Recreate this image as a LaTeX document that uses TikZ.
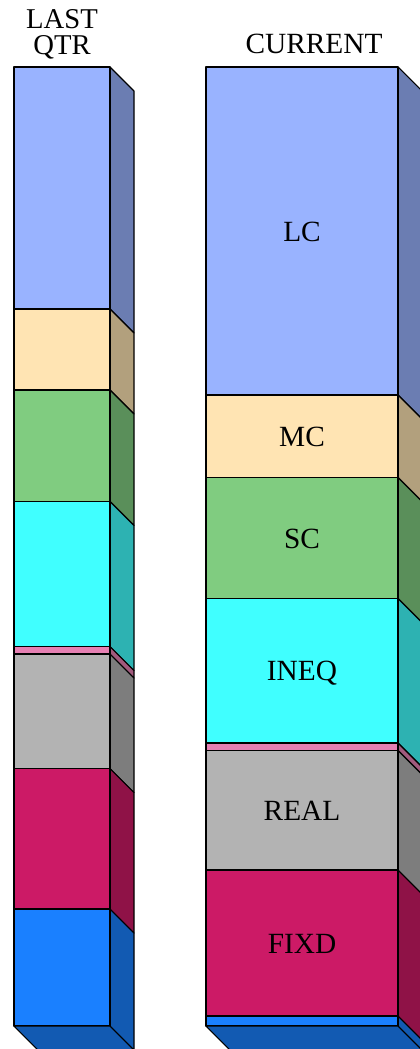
\documentclass[tikz,border=0pt]{standalone}
\usepackage{fontspec}
\setmainfont{Liberation Serif}
\usepackage{xcolor}
\usepackage{tikz}
\usetikzlibrary{positioning}

\definecolor{lcblue}{RGB}{153,179,255}
\definecolor{mcsand}{RGB}{255,228,179}
\definecolor{scgreen}{RGB}{128,204,128}
\definecolor{ineqcyan}{RGB}{64,255,255}
\definecolor{otherpink}{RGB}{230,128,179}
\definecolor{realgray}{RGB}{179,179,179}
\definecolor{fixdred}{RGB}{204,26,102}
\definecolor{cashblue}{RGB}{26,128,255}

\begin{document}
\begin{tikzpicture}[
    x=0.75pt, y=-0.75pt,
    face/.style={draw=black, line width=0.8pt, line join=round},
    lbl/.style={font=\fontsize{22}{19}\selectfont, inner sep=0pt, anchor=base},
    head/.style={font=\fontsize{21.5}{20}\selectfont, inner sep=0pt, align=center}
]
\useasboundingbox (0,0) rectangle (420,1049);

% last quarter bar
\foreach \t/\b/\c in {67/309/lcblue, 309/390/mcsand, 390/501.5/scgreen, 501.5/646.5/ineqcyan, 646.5/654/otherpink, 654/768.5/realgray, 768.5/909/fixdred, 909/1026/cashblue} {
    \filldraw[face, fill=\c!70!black] (110,\t) -- (134,\t+24) -- (134,\b+24) -- (110,\b) -- cycle;
    \filldraw[face, fill=\c] (14,\t) rectangle (110,\b);
}
\filldraw[face, fill=cashblue!70!black] (14,1026) -- (110,1026) -- (134,1050) -- (38,1050) -- cycle;

% current bar
\foreach \t/\b/\c in {67/395/lcblue, 395/477.5/mcsand, 477.5/598.5/scgreen, 598.5/743/ineqcyan, 743/750.5/otherpink, 750.5/870/realgray, 870/1016/fixdred, 1016/1026/cashblue} {
    \filldraw[face, fill=\c!70!black] (398,\t) -- (422,\t+24) -- (422,\b+24) -- (398,\b) -- cycle;
    \filldraw[face, fill=\c] (206,\t) rectangle (398,\b);
}
\filldraw[face, fill=cashblue!70!black] (206,1026) -- (398,1026) -- (422,1050) -- (230,1050) -- cycle;

\node[head, anchor=north] (lastqtr) at (62,9) {LAST\\QTR};
\node[lbl] (current) at (314,54) {CURRENT};

\node[lbl] (lc) at (302,241) {LC};
\node[lbl] (mc) at (302,446) {MC};
\node[lbl] (sc) at (302,548) {SC};
\node[lbl] (ineq) at (302,680.5) {INEQ};
\node[lbl] (real) at (302,820) {REAL};
\node[lbl] (fixd) at (302,953) {FIXD};

\end{tikzpicture}
\end{document}
